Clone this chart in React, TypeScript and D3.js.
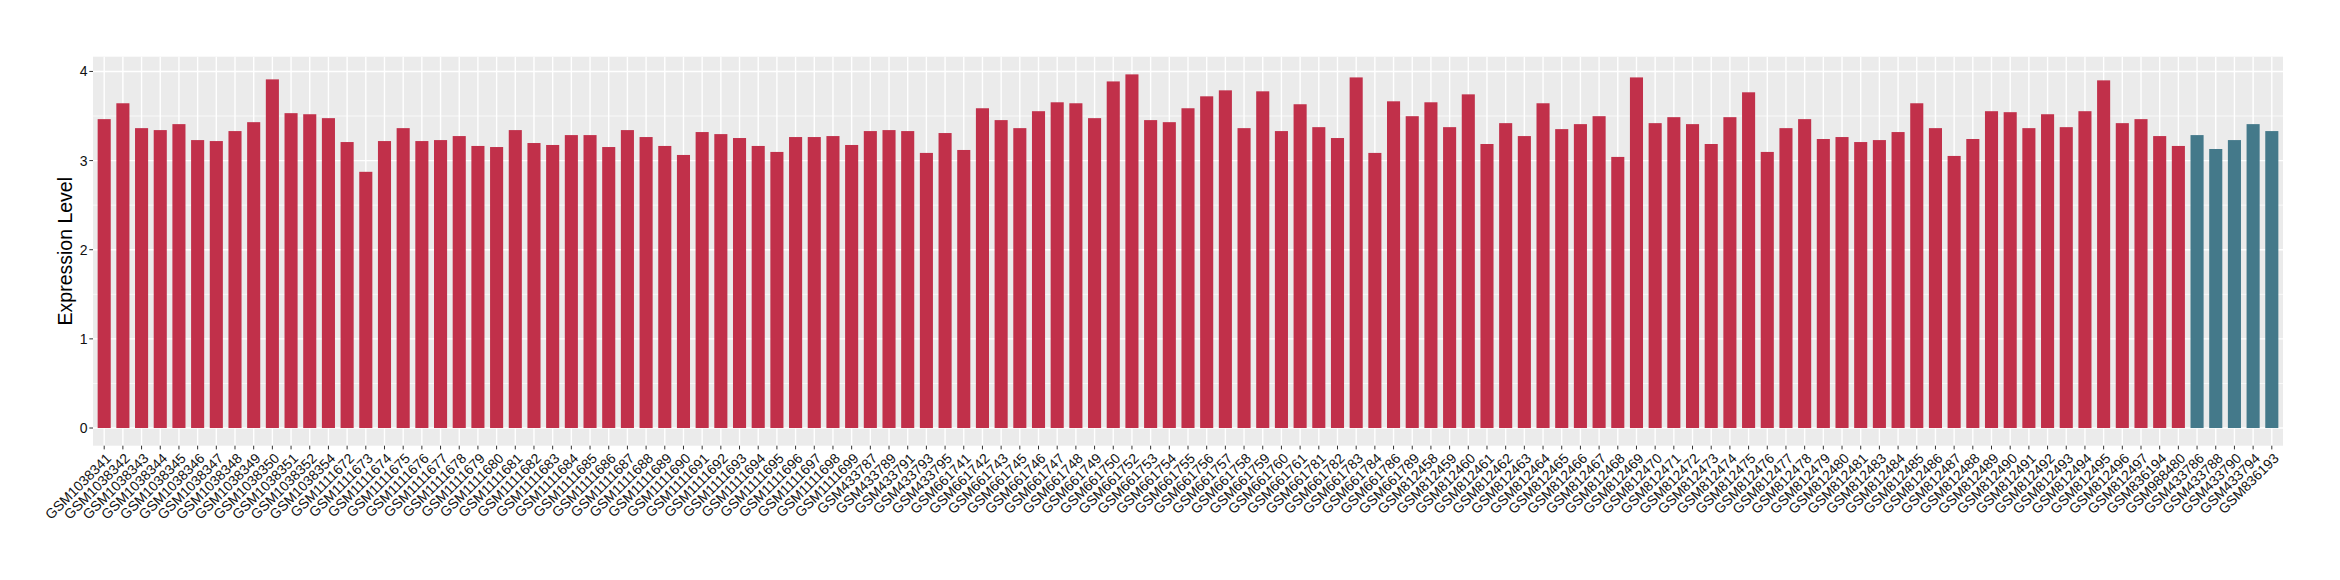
import React from "react";
import * as d3 from "d3";

const samples: string[] = [
  "GSM1038341","GSM1038342","GSM1038343","GSM1038344","GSM1038345","GSM1038346","GSM1038347","GSM1038348","GSM1038349","GSM1038350","GSM1038351","GSM1038352","GSM1038354",
  "GSM1111672","GSM1111673","GSM1111674","GSM1111675","GSM1111676","GSM1111677","GSM1111678","GSM1111679","GSM1111680","GSM1111681","GSM1111682","GSM1111683","GSM1111684","GSM1111685","GSM1111686","GSM1111687","GSM1111688","GSM1111689","GSM1111690","GSM1111691","GSM1111692","GSM1111693","GSM1111694","GSM1111695","GSM1111696","GSM1111697","GSM1111698","GSM1111699",
  "GSM433787","GSM433789","GSM433791","GSM433793","GSM433795",
  "GSM661741","GSM661742","GSM661743","GSM661745","GSM661746","GSM661747","GSM661748","GSM661749","GSM661750","GSM661752","GSM661753","GSM661754","GSM661755","GSM661756","GSM661757","GSM661758","GSM661759","GSM661760","GSM661761","GSM661781","GSM661782","GSM661783","GSM661784","GSM661786","GSM661789",
  "GSM812458","GSM812459","GSM812460","GSM812461","GSM812462","GSM812463","GSM812464","GSM812465","GSM812466","GSM812467","GSM812468","GSM812469","GSM812470","GSM812471","GSM812472","GSM812473","GSM812474","GSM812475","GSM812476","GSM812477","GSM812478","GSM812479","GSM812480","GSM812481",
  "GSM812483","GSM812484","GSM812485","GSM812486","GSM812487","GSM812488","GSM812489","GSM812490","GSM812491","GSM812492","GSM812493","GSM812494","GSM812495","GSM812496","GSM812497",
  "GSM836194","GSM988480",
  "GSM433786","GSM433788","GSM433790","GSM433794","GSM836193"
];

const values: number[] = [
  3.465,3.643,3.364,3.342,3.409,3.230,3.219,3.331,3.431,3.911,3.532,3.520,3.476,
  3.208,2.874,3.219,3.364,3.219,3.230,3.275,3.164,3.152,3.342,3.197,3.175,3.286,3.286,3.152,3.342,3.264,3.164,3.063,3.320,3.297,3.253,3.164,3.097,3.264,3.264,3.275,3.175,
  3.331,3.342,3.331,3.086,3.309,
  3.119,3.587,3.454,3.364,3.554,3.654,3.643,3.476,3.888,3.967,3.454,3.431,3.587,3.721,3.788,3.364,3.777,3.331,3.632,3.375,3.253,3.933,3.086,3.665,3.498,
  3.654,3.375,3.743,3.186,3.420,3.275,3.643,3.353,3.409,3.498,3.041,3.933,3.420,3.487,3.409,3.186,3.487,3.766,3.097,3.364,3.465,3.242,3.264,3.208,
  3.230,3.320,3.643,3.364,3.052,3.242,3.554,3.543,3.364,3.520,3.375,3.554,3.900,3.420,3.465,
  3.275,3.164,
  3.286,3.130,3.230,3.409,3.331
];

const groups: string[] = samples.map((_, i) => (i < 112 ? "tumor" : "normal"));
const groupColors: Record<string, string> = { tumor: "#C1304A", normal: "#44798A" };

const yTicks: number[] = [0, 1, 2, 3, 4];
const yMinor: number[] = [0.5, 1.5, 2.5, 3.5];
const yTitle = "Expression Level";

export default function App() {
  const W = 2340, H = 580;
  const left = 93, right = 2283, top = 56.7, bottom = 445.7;
  const n = samples.length;
  const step = (right - left) / (n + 1.2);
  const x = d3.scaleBand<string>().domain(samples).range([left + 0.6 * step - step / 2, right - 0.6 * step + step / 2]).paddingInner(0.3).paddingOuter(0.15);
  const xc = (s: string) => (x(s) as number) + x.bandwidth() / 2;
  const maxV = d3.max(values) as number;
  const y = d3.scaleLinear().domain([-0.05 * maxV, maxV * 1.05]).range([bottom, top]);
  const font = "'Liberation Sans', Arial, sans-serif";

  return (
    <div style={{ position: "absolute", left: 0, top: 0 }}>
      <svg width={W} height={H} style={{ display: "block", background: "#fff" }}>
        <rect x={left} y={top} width={right - left} height={bottom - top} fill="#EBEBEB" />
        {yMinor.map((t) => (
          <line key={"mn" + t} x1={left} x2={right} y1={y(t)} y2={y(t)} stroke="#fff" strokeWidth={0.7} />
        ))}
        {yTicks.map((t) => (
          <line key={"mj" + t} x1={left} x2={right} y1={y(t)} y2={y(t)} stroke="#fff" strokeWidth={1.4} />
        ))}
        {samples.map((s) => (
          <line key={"vg" + s} x1={xc(s)} x2={xc(s)} y1={top} y2={bottom} stroke="#fff" strokeWidth={1.4} />
        ))}
        {samples.map((s, i) => (
          <rect key={"b" + s} x={x(s)} width={x.bandwidth()} y={y(values[i])} height={y(0) - y(values[i])} fill={groupColors[groups[i]]} />
        ))}
        {yTicks.map((t) => (
          <g key={"yt" + t}>
            <line x1={left - 3.7} x2={left} y1={y(t)} y2={y(t)} stroke="#333" strokeWidth={1} />
            <text x={left - 5.5} y={y(t)} dy="0.36em" textAnchor="end" fontFamily={font} fontSize={14} fill="#111">{t}</text>
          </g>
        ))}
        {samples.map((s) => (
          <g key={"xt" + s}>
            <line x1={xc(s)} x2={xc(s)} y1={bottom} y2={bottom + 3.7} stroke="#333" strokeWidth={1} />
            <text transform={`translate(${xc(s) + 1},${bottom + 6.5}) rotate(-45)`} textAnchor="end" dy="0.7em" fontFamily={font} fontSize={14} fill="#111">{s}</text>
          </g>
        ))}
        <text transform={`translate(${72},${(top + bottom) / 2}) rotate(-90)`} textAnchor="middle" fontFamily={font} fontSize={19.5} fill="#000">{yTitle}</text>
      </svg>
    </div>
  );
}
